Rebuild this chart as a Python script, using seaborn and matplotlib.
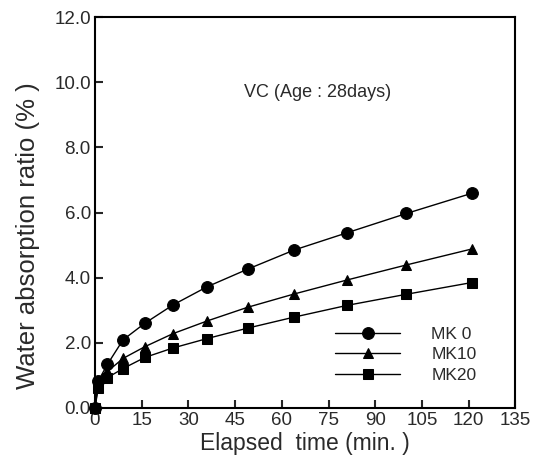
import pandas as pd
import matplotlib
matplotlib.use("Agg")
import matplotlib.pyplot as plt
import seaborn as sns

# elapsed time (min) and water absorption ratio (%)
time_min = [0, 1, 4, 9, 16, 25, 36, 49, 64, 81, 100, 121]
mk0 = [0.0, 0.82, 1.34, 2.09, 2.60, 3.16, 3.72, 4.26, 4.85, 5.38, 5.97, 6.59]
mk10 = [0.0, 0.72, 1.12, 1.52, 1.88, 2.28, 2.67, 3.09, 3.50, 3.93, 4.39, 4.88]
mk20 = [0.0, 0.60, 0.93, 1.21, 1.55, 1.84, 2.13, 2.45, 2.79, 3.15, 3.49, 3.85]
labels = ["MK 0", "MK10", "MK20"]
markers = ["o", "^", "s"]
msizes = [8.5, 6.5, 7.5]

x_ticks = list(range(0, 136, 15))
y_ticks = [0, 2, 4, 6, 8, 10, 12]

sns.set_style("ticks")
plt.rcParams["font.family"] = ["Liberation Sans", "DejaVu Sans"]

fig = plt.figure(figsize=(5.41, 4.62), dpi=100)
ax = fig.add_axes([0.1756, 0.117, 0.777, 0.846])

txt = "#2a2a2a"
for vals, lab, m, ms in zip([mk0, mk10, mk20], labels, markers, msizes):
    df = pd.DataFrame({"time": time_min, "ratio": vals})
    sns.lineplot(data=df, x="time", y="ratio", ax=ax, color="black", lw=1.0,
                 marker=m, markersize=ms, markeredgecolor="black", label=lab,
                 clip_on=False, zorder=3)

ax.set_xlim(0, 135)
ax.set_ylim(0, 12)
ax.set_xticks(x_ticks)
ax.set_yticks(y_ticks)
ax.set_yticklabels([f"{v:.1f}" for v in y_ticks])
ax.tick_params(direction="in", length=6, width=1.5, labelsize=13.5,
               labelcolor=txt, pad=3)
for s in ax.spines.values():
    s.set_linewidth(1.5)
    s.set_color("black")

ax.set_xlabel("Elapsed  time (min. )", fontsize=16.5, color=txt, labelpad=2)
ax.set_ylabel("Water absorption ratio (% )", fontsize=18.5, color=txt)
ax.yaxis.set_label_coords(-0.131, 0.442)

ax.text(48, 9.7, "VC (Age : 28days)", fontsize=13, color=txt, va="center")

leg = ax.legend(loc="center left", bbox_to_anchor=(0.571, 0.136), frameon=False,
                fontsize=12.5, handlelength=3.75, handletextpad=1.8,
                labelspacing=0.3, borderpad=0, borderaxespad=0)
for t in leg.get_texts():
    t.set_color(txt)

fig.savefig("out.png", dpi=100)
